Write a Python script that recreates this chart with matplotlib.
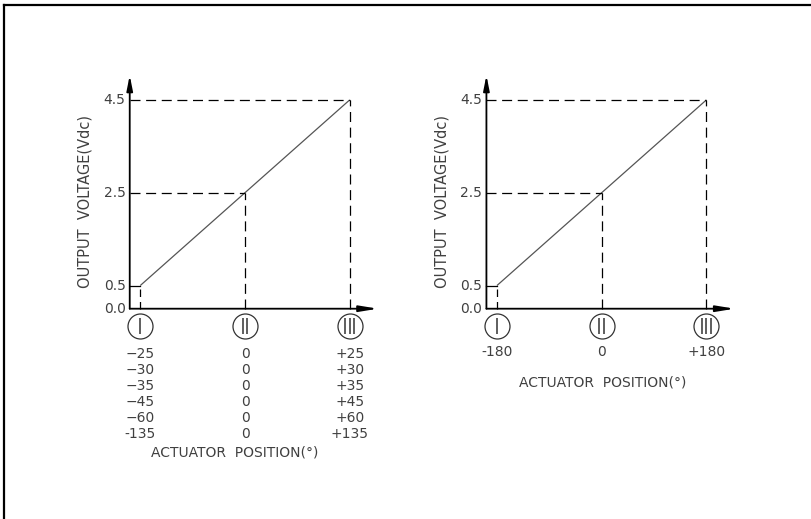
import matplotlib
matplotlib.use("Agg")
import matplotlib.pyplot as plt
from matplotlib.lines import Line2D
from matplotlib.transforms import ScaledTranslation

# positions I, II, III and the output voltage at each
positions = [-1, 0, 1]
roman = ["I", "II", "III"]
voltage = [0.5, 2.5, 4.5]
ytick_vals = [0.0, 0.5, 2.5, 4.5]
ytick_labels = ["0.0", "0.5", "2.5", "4.5"]

# actuator angles (deg) for the left chart, one row per range
left_neg = ["\u221225", "\u221230", "\u221235", "\u221245", "\u221260", "-135"]
left_mid = ["0", "0", "0", "0", "0", "0"]
left_pos = ["+25", "+30", "+35", "+45", "+60", "+135"]

# actuator angles for the right chart
right_angles = ["-180", "0", "+180"]

W, H = 812, 519
TXT = "#404040"
fig = plt.figure(figsize=(W / 100, H / 100), dpi=100)
fig.patch.set_facecolor("white")

# page frame (top and left edges only)
fig.add_artist(Line2D([4.5 / W, 1], [1 - 4.5 / H, 1 - 4.5 / H], transform=fig.transFigure, color="black", lw=1.6))
fig.add_artist(Line2D([4.5 / W, 4.5 / W], [0, 1 - 4.5 / H], transform=fig.transFigure, color="black", lw=1.6))

xunit, yunit = 104.7, 46.4   # px per data unit
y0_px = 308.7                # pixel row of 0.0 V
top_px, bot_px = 60, 470


def py(p):
    # pixel row -> data y
    return (y0_px - p) / yunit


def make_axes(x_left_px, x_mid_px):
    x_right_px = x_left_px + 340
    ax = fig.add_axes([x_left_px / W, 1 - bot_px / H, 340 / W, (bot_px - top_px) / H])
    ax.set_xlim((x_left_px - x_mid_px) / xunit, (x_right_px - x_mid_px) / xunit)
    ax.set_ylim(py(bot_px), py(top_px))
    ax.axis("off")
    return ax


def draw_chart(ax):
    ax_x = positions[0] - 0.101
    # axes with arrowheads
    ax.annotate("", xy=(ax_x, 5.03), xytext=(ax_x, 0), annotation_clip=False,
                arrowprops=dict(arrowstyle="-|>,head_length=0.9,head_width=0.18", lw=1.3,
                                color="black", shrinkA=0, shrinkB=0))
    ax.annotate("", xy=(positions[-1] + 0.27, 0), xytext=(ax_x, 0), annotation_clip=False,
                arrowprops=dict(arrowstyle="-|>,head_length=1.1,head_width=0.18", lw=1.3,
                                color="black", shrinkA=0, shrinkB=0))
    # transfer line
    ax.plot(positions, voltage, color="#555555", lw=0.9, solid_capstyle="butt")
    # dashed guides
    for i, (x, v) in enumerate(zip(positions, voltage)):
        ax.plot([ax_x, x], [v, v], color="black", lw=0.9,
                linestyle="-" if i == 0 else (0, (8, 4.5)))
        ax.plot([x, x], [0, v], color="black", lw=0.9, linestyle=(0, (6, 4)) if i == 0 else (0, (8, 4.5)))
    # y tick labels
    for v, lab in zip(ytick_vals, ytick_labels):
        ax.text(-1.14, v, lab, ha="right", va="center", fontsize=10, color=TXT)
    ax.text(-1.53, 2.3, "OUTPUT  VOLTAGE(Vdc)", rotation=90, ha="center", va="center",
            fontsize=10.5, color=TXT)
    # roman numeral position markers
    yc = py(326)
    for x, r in zip(positions, roman):
        ax.plot([x], [yc], marker="o", ms=18, mfc="none", mec="#333333", mew=0.9, clip_on=False)
        n = len(r)
        for j in range(n):
            dx = (j - (n - 1) / 2) * 4.5 / 100
            tr = ax.transData + ScaledTranslation(dx, 0, fig.dpi_scale_trans)
            ax.plot([x], [yc], marker="|", ms=12, mew=1.1, color="#333333", transform=tr, clip_on=False)


axL = make_axes(60, 245)
draw_chart(axL)
for i in range(len(left_neg)):
    yy = py(354 + 16 * i)
    for x, col in zip(positions, [left_neg, left_mid, left_pos]):
        axL.text(x, yy, col[i], ha="center", va="center", fontsize=10, color=TXT)
axL.text(-0.1, py(452), "ACTUATOR  POSITION(°)", ha="center", va="center", fontsize=10, color=TXT)

axR = make_axes(416.7, 601.7)
draw_chart(axR)
for x, lab in zip(positions, right_angles):
    axR.text(x, py(352), lab, ha="center", va="center", fontsize=10, color=TXT)
axR.text(0.01, py(382), "ACTUATOR  POSITION(°)", ha="center", va="center", fontsize=10, color=TXT)

fig.savefig("out.png", dpi=100, facecolor="white")
